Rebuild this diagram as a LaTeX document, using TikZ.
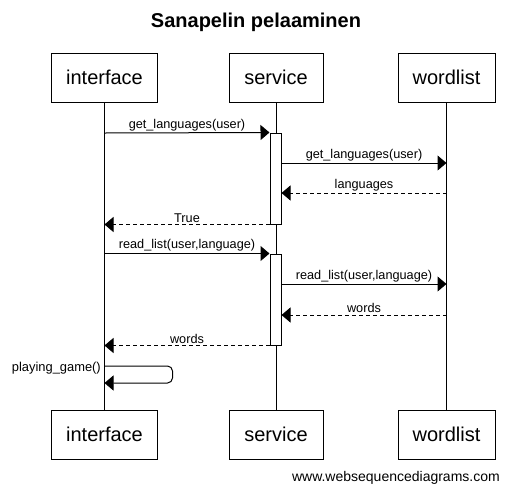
\documentclass[tikz,border=0pt]{standalone}
\usepackage{fontspec}
\setmainfont{Liberation Sans}
\usetikzlibrary{arrows.meta,positioning,calc}
\tikzset{
  actor/.style={draw, line width=1pt, minimum height=49pt, inner sep=0pt,
                font=\fontsize{20}{24}\selectfont},
  actbar/.style={draw, line width=1pt, fill=white, minimum width=11pt, inner sep=0pt},
  lifeline/.style={line width=1pt},
  call/.style={-{Triangle[length=9pt,width=15pt]}, line width=1pt},
  reply/.style={call, dash pattern=on 4pt off 3pt},
  msg/.style={midway, above, inner sep=1.5pt, font=\fontsize{12.7}{14}\selectfont},
}

\begin{document}
\begin{tikzpicture}[x=1pt, y=-1pt]
  \useasboundingbox (0,0) rectangle (510,493);
  \node[font=\bfseries\fontsize{20}{24}\selectfont] (title) at (256,22) {Sanapelin pelaaminen};

  \node[actor, minimum width=106pt] (ifaceTop) at (104.5,77.5) {interface};
  \node[actor, minimum width=94pt] (servTop) at (276,77.5) {service};
  \node[actor, minimum width=97pt] (wordTop) at (446.5,77.5) {wordlist};
  \node[actor, minimum width=106pt] (ifaceBot) at (104.5,434.5) {interface};
  \node[actor, minimum width=94pt] (servBot) at (276,434.5) {service};
  \node[actor, minimum width=97pt] (wordBot) at (446.5,434.5) {wordlist};

  \draw[lifeline] (ifaceTop) -- (ifaceBot);
  \draw[lifeline] (servTop) -- (servBot);
  \draw[lifeline] (wordTop) -- (wordBot);

  \node[actbar, minimum height=91pt] (act1) at (275.5,178.5) {};
  \node[actbar, minimum height=91pt] (act2) at (275.5,299.5) {};

  % first round
  \coordinate (i1) at (ifaceTop |- 0,133);
  \coordinate (w1) at (wordTop |- 0,163);
  \coordinate (s1) at (act1.east |- 0,163);
  \coordinate (w2) at (wordTop |- 0,193);
  \coordinate (s2) at (act1.east |- 0,193);
  \coordinate (i2) at (ifaceTop |- act1.south);
  \draw[call] (i1) -- (act1.north west) node[msg] {get\_languages(user)};
  \draw[call] (s1) -- (w1) node[msg] {get\_languages(user)};
  \draw[reply] (w2) -- (s2) node[msg] {languages};
  \draw[reply] (act1.south west) -- (i2) node[msg] {True};

  % second round
  \coordinate (i3) at (ifaceTop |- act2.north);
  \coordinate (w3) at (wordTop |- 0,284);
  \coordinate (s3) at (act2.east |- 0,284);
  \coordinate (w4) at (wordTop |- 0,315);
  \coordinate (s4) at (act2.east |- 0,315);
  \coordinate (i4) at (ifaceTop |- act2.south);
  \draw[call] (i3) -- (act2.north west) node[msg] {read\_list(user,language)};
  \draw[call] (s3) -- (w3) node[msg] {read\_list(user,language)};
  \draw[reply] (w4) -- (s4) node[msg] {words};
  \draw[reply] (act2.south west) -- (i4) node[msg] {words};

  % self call
  \coordinate (p1) at (ifaceTop |- 0,366);
  \coordinate (p2) at (ifaceTop |- 0,383);
  \draw[call, rounded corners=5pt] (p1) -- ++(68,0) |- (p2);
  \node[anchor=east, inner sep=0pt, font=\fontsize{12.9}{14}\selectfont] (play) at (101,368) {playing\_game()};

  \node[anchor=east, inner sep=0pt, font=\fontsize{14}{16}\selectfont] (footer) at (500,478) {www.websequencediagrams.com};
\end{tikzpicture}
\end{document}
